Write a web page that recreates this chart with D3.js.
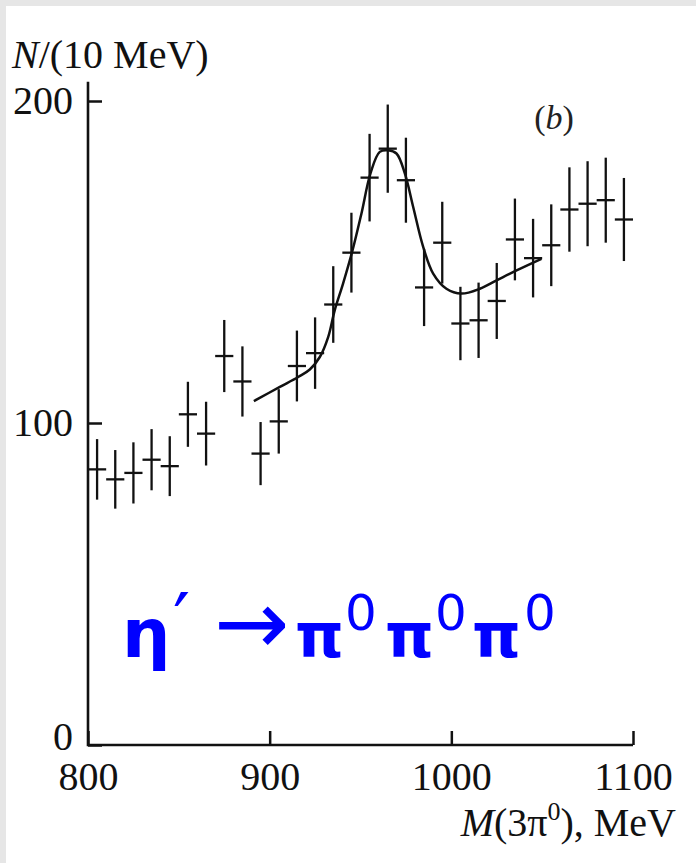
<!DOCTYPE html>
<html>
<head>
<meta charset="utf-8">
<script src="https://cdn.jsdelivr.net/npm/d3@7"></script>
<style>
  html, body { margin: 0; padding: 0; background: #e6e6e6; }
  svg { display: block; }
</style>
</head>
<body>
<svg id="chart" width="696" height="863"></svg>
<script>
// Invariant mass bins (MeV), centres of 10 MeV bins
const mass = [805, 815, 825, 835, 845, 855, 865, 875, 885, 895,
              905, 915, 925, 935, 945, 955, 965, 975, 985, 995,
              1005, 1015, 1025, 1035, 1045, 1055, 1065, 1075, 1085, 1095];
// Events per bin
const counts = [85.6, 82.5, 84.5, 88.6, 86.6, 102.7, 96.7, 120.8, 112.9, 90.5,
                100.5, 117.7, 121.7, 136.8, 152.9, 176.2, 185.2, 175.4, 142.1, 156.0,
                130.9, 131.9, 137.9, 157.0, 151.2, 155.2, 166.3, 168.1, 169.2, 163.2];
// Statistical errors per bin
const errors = [9.4, 9.1, 9.5, 9.5, 9.3, 10.1, 9.9, 11.2, 10.9, 9.8,
                10.0, 11.0, 11.1, 11.9, 12.4, 13.6, 13.7, 13.2, 12.0, 12.7,
                11.4, 11.7, 11.8, 12.7, 12.2, 12.7, 13.1, 13.2, 13.2, 12.9];
// Fitted curve (resonance over background)
const fitMass = [891.3, 905.6, 915.7, 922.1, 927.6, 932.2, 935.8, 940.4, 945.6, 950.5,
                 955.5, 960.6, 965.2, 969.8, 974.4, 979.0, 984.5, 990.0, 997.3, 1005.6,
                 1015.7, 1024.9, 1035.9, 1049.6];
const fitCounts = [106.8, 111.2, 114.3, 116.6, 120.5, 126.7, 135.0, 143.3, 153.6, 165.0,
                   177.5, 184.2, 184.7, 183.7, 177.5, 167.1, 154.7, 146.4, 141.7, 140.2,
                   141.7, 144.3, 147.4, 151.0];
const xTicks = [800, 900, 1000, 1100];
const yTicks = [0, 100, 200];
const binWidth = 10;

const svg = d3.select("#chart");

// white page on a light grey frame
svg.append("rect").attr("x", 6).attr("y", 6).attr("width", 690).attr("height", 857).attr("fill", "#fff");

const x = d3.scaleLinear().domain([800, 1100]).range([88, 633]);
const y = d3.scaleLinear().domain([0, 200]).range([745, 101]);

const ink = "#111";
const serif = "'Liberation Serif', 'Times New Roman', serif";
const fs = "40px";

// axes with inward ticks
const gx = svg.append("g").attr("transform", `translate(0,${y(0)})`)
  .call(d3.axisBottom(x).tickValues(xTicks).tickSize(-14).tickSizeOuter(0).tickPadding(17).tickFormat(d3.format("d")));
const gy = svg.append("g").attr("transform", `translate(${x(800)},0)`)
  .call(d3.axisLeft(y).tickValues(yTicks).tickSize(-14).tickSizeOuter(0).tickPadding(15).tickFormat(d3.format("d")));

[gx, gy].forEach(g => {
  g.select(".domain").remove();
  g.selectAll(".tick line").attr("stroke", ink).attr("stroke-width", 2.5);
  g.selectAll(".tick text").attr("fill", ink).style("font-family", serif).style("font-size", fs);
});
gy.selectAll(".tick text").attr("dy", d => d === 0 ? "0.1em" : "0.3em");

// axis lines
svg.append("path")
  .attr("d", `M${x(800)},${y(206)}V${y(0)}H${x(1100)}`)
  .attr("fill", "none").attr("stroke", ink).attr("stroke-width", 2.6);

// error bars: vertical = stat. error, horizontal = bin width
const pts = mass.map((m, i) => ({ m, n: counts[i], e: errors[i] }));
const bars = svg.append("g").attr("stroke", ink).attr("stroke-width", 2.3);
bars.selectAll("line.v").data(pts).join("line").attr("class", "v")
  .attr("x1", d => x(d.m)).attr("x2", d => x(d.m))
  .attr("y1", d => y(d.n - d.e)).attr("y2", d => y(d.n + d.e));
bars.selectAll("line.h").data(pts).join("line").attr("class", "h")
  .attr("x1", d => x(d.m - binWidth / 2)).attr("x2", d => x(d.m + binWidth / 2))
  .attr("y1", d => y(d.n)).attr("y2", d => y(d.n));

// fit curve
const fit = fitMass.map((m, i) => [m, fitCounts[i]]);
svg.append("path")
  .datum(fit)
  .attr("d", d3.line().x(d => x(d[0])).y(d => y(d[1])).curve(d3.curveCatmullRom.alpha(0.5)))
  .attr("fill", "none").attr("stroke", ink).attr("stroke-width", 2.5);

// axis titles
const yt = svg.append("text").attr("x", 12).attr("y", 68)
  .style("font-family", serif).style("font-size", fs).attr("fill", ink);
yt.append("tspan").style("font-style", "italic").text("N");
yt.append("tspan").text("/(10 MeV)");

const xt = svg.append("text").attr("x", 676).attr("y", 836).attr("text-anchor", "end")
  .style("font-family", serif).style("font-size", fs).attr("fill", ink);
xt.append("tspan").style("font-style", "italic").text("M");
xt.append("tspan").text("(3π");
xt.append("tspan").attr("dy", -16).style("font-size", "26px").text("0");
xt.append("tspan").attr("dy", 16).text("), MeV");

// panel tag
const tag = svg.append("text").attr("x", 554).attr("y", 129).attr("text-anchor", "middle")
  .style("font-family", serif).style("font-size", "34px").attr("fill", "#222");
tag.append("tspan").text("(");
tag.append("tspan").style("font-style", "italic").text("b");
tag.append("tspan").text(")");

// decay annotation
const blue = "#0000ff";
const deco = svg.append("g").attr("fill", blue).style("font-family", "'DejaVu Sans', sans-serif");
deco.append("text").attr("x", 122).attr("y", 657).style("font-size", "68px").style("font-weight", "bold").text("η");
deco.append("text").attr("x", 173).attr("y", 648).style("font-size", "76px").text("′");
deco.append("text").attr("x", 214).attr("y", 654).style("font-size", "90px").text("→");
[[295, 345], [385, 435], [472, 524]].forEach(([px, zx]) => {
  deco.append("text").attr("x", px).attr("y", 657).style("font-size", "62px").style("font-weight", "bold").text("π");
  deco.append("text").attr("x", zx).attr("y", 630).style("font-size", "50px").text("0");
});
</script>
</body>
</html>
